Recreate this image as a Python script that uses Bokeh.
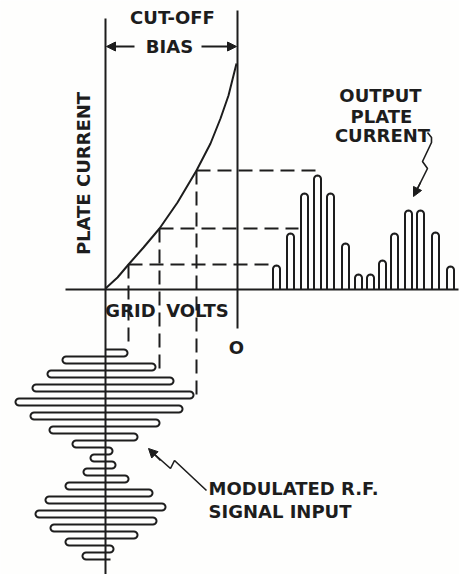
import numpy as np
from bokeh.plotting import figure
from bokeh.models import Range1d, Arrow, NormalHead
from bokeh.core.properties import value
from bokeh.embed import file_html
from bokeh.resources import INLINE

# ---------------- data (pixel-like units) ----------------
# tube characteristic: grid volts (x) vs plate current (y)
curve_x = [105, 117, 128, 143, 159, 177, 196, 210, 220, 228, 236]
curve_y = [288, 277, 264, 247, 228, 202, 170, 143, 118, 95, 63]

# projection levels (grid-volt peak -> plate-current level)
proj_x = [128, 159, 196]
proj_y = [264, 228, 170]
proj_out_end = [270, 298, 315]      # where the dashed level meets the output pulse
proj_in_end = [347, 372, 395]       # where the dashed drop meets the input peak

# output plate current pulses: time position and top level
pulse_t = [276, 290, 304, 317, 330, 345, 358, 370, 382, 394, 408, 420, 435, 450]
pulse_top = [265, 233, 193, 175, 193, 243, 274, 274, 260, 233, 210, 210, 232, 266]

# modulated R.F. input: positive and negative peak excursions
rf_pos_peak = [127, 155, 173, 193, 182, 159, 137, 112, 115, 128, 152, 165, 156, 137, 113]
rf_neg_peak = [62, 47, 32, 15, 30, 49, 72, 90, 83, 65, 45, 35, 50, 65, 82]

# axes of the drawing
bias_x = 105          # cut-off bias grid line
zero_x = 237          # zero grid volts
base_y = 289          # zero plate current

INK = "#1d1d1d"
FONT = value("DejaVu Sans")

p = figure(width=459, height=574, x_range=Range1d(0, 459), y_range=Range1d(574, 0),
           output_backend="svg", toolbar_location=None, min_border=0,
           x_axis_location=None, y_axis_location=None)
p.grid.visible = False
p.outline_line_color = None
p.background_fill_color = "#fefefd"
p.border_fill_color = "#fefefd"

LW = 2

# main axes
p.line([bias_x, bias_x], [18, 574], line_color=INK, line_width=LW)
p.line([zero_x, zero_x], [10, 328], line_color=INK, line_width=LW)
p.line([65, 458], [base_y, base_y], line_color=INK, line_width=LW)

# characteristic curve
p.line(curve_x, curve_y, line_color=INK, line_width=LW)

# dashed projections
for gx, py, oe, ie in zip(proj_x, proj_y, proj_out_end, proj_in_end):
    p.line([gx, oe], [py, py], line_color=INK, line_width=LW, line_dash="14 7")
    p.line([gx, gx], [py, ie], line_color=INK, line_width=LW, line_dash="14 7")

# output pulses (narrow hairpins)
r = 3.5
th = np.linspace(np.pi, 0, 11)
pxs, pys = [], []
for t, top in zip(pulse_t, pulse_top):
    xs = [t - r] + list(t + r * np.cos(th)) + [t + r]
    ys = [base_y] + list(top + r - r * np.sin(th)) + [base_y]
    pxs.append(xs)
    pys.append(ys)
p.multi_line(pxs, pys, line_color=INK, line_width=LW)

# modulated RF serpentine
turns = []
for a, b in zip(rf_pos_peak, rf_neg_peak):
    turns += [a, b]
s = 7.0
rr = s / 2
y0 = 349
sx, sy = [bias_x], [y0]
ang = np.linspace(-np.pi / 2, np.pi / 2, 11)
for i, X in enumerate(turns):
    d = 1 if i % 2 == 0 else -1
    yc = y0 + i * s + rr
    cx = X - d * rr
    sx += list(cx + d * rr * np.cos(ang))
    sy += list(yc + rr * np.sin(ang))
sx.append(110)
sy.append(y0 + len(turns) * s)
p.line(sx, sy, line_color=INK, line_width=LW)

# cut-off bias arrows
head = dict(size=9, fill_color=INK, line_color=INK)
p.add_layout(Arrow(end=NormalHead(**head), x_start=134, y_start=46, x_end=106, y_end=46,
                   line_color=INK, line_width=LW))
p.add_layout(Arrow(end=NormalHead(**head), x_start=201, y_start=46, x_end=236, y_end=46,
                   line_color=INK, line_width=LW))

# squiggle pointer to output
ox = [427, 431, 431, 422, 427, 416]
oy = [132, 137, 142, 161, 168, 190]
p.line(ox, oy, line_color=INK, line_width=1.6)
p.add_layout(Arrow(end=NormalHead(**head), x_start=420, y_start=182, x_end=413, y_end=196,
                   line_color=INK, line_width=1.6))

# squiggle pointer to input
ix = [206, 174, 170, 152]
iy = [490, 460, 468, 452]
p.line(ix, iy, line_color=INK, line_width=1.6)
p.add_layout(Arrow(end=NormalHead(**head), x_start=160, y_start=460, x_end=148, y_end=448,
                   line_color=INK, line_width=1.6))

# labels
txt = dict(text_font=FONT, text_font_size="18px", text_font_style="bold",
           text_color=INK, text_baseline="middle")
p.text(x=[172, 169, 130, 197, 236, 380, 381, 382],
       y=[17, 46, 310, 310, 347, 95, 116, 135],
       text=["CUT-OFF", "BIAS", "GRID", "VOLTS", "O", "OUTPUT", "PLATE", "CURRENT"],
       text_align="center", **txt)
p.text(x=[83], y=[173], text=["PLATE CURRENT"], angle=np.pi / 2, text_align="center", **txt)
p.text(x=[208, 208], y=[488, 511], text=["MODULATED R.F.", "SIGNAL INPUT"],
       text_align="left", **txt)

open("out.html", "w").write(file_html(p, INLINE))
